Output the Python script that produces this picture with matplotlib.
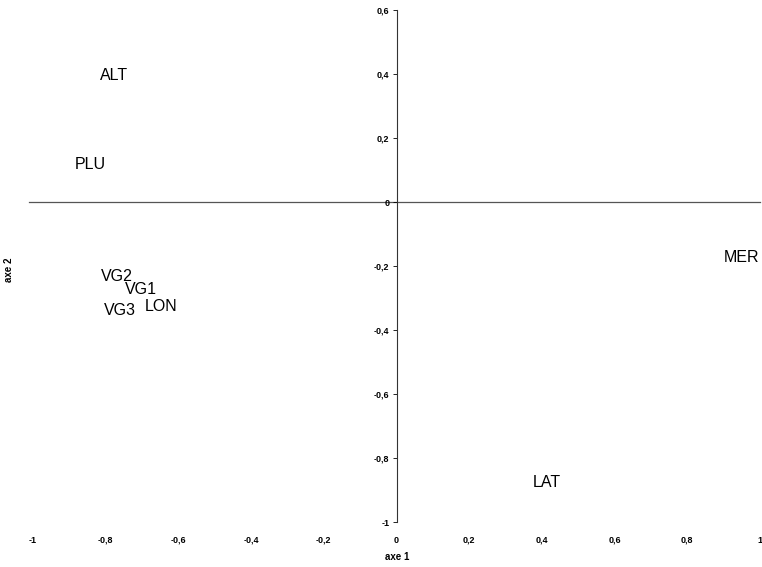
import matplotlib
matplotlib.use("Agg")
import matplotlib.pyplot as plt
import numpy as np

plt.rcParams['font.family'] = ['Liberation Sans', 'DejaVu Sans']

labels = ["ALT", "PLU", "VG2", "VG1", "VG3", "LON", "MER", "LAT"]
axe1 = [-0.777, -0.843, -0.769, -0.702, -0.760, -0.647, 0.950, 0.413]
axe2 = [0.394, 0.116, -0.234, -0.275, -0.338, -0.328, -0.175, -0.878]

xticks = [-1, -0.8, -0.6, -0.4, -0.2, 0, 0.2, 0.4, 0.6, 0.8, 1]
yticks = [-1, -0.8, -0.6, -0.4, -0.2, 0, 0.2, 0.4, 0.6]

def fmt(v):
    s = f"{v:g}".replace(".", ",")
    return s

fig = plt.figure(figsize=(7.62, 5.67), dpi=100)
ax = fig.add_axes([33/762, 1-522/567, 727/762, 512/567])
ax.set_xlim(-1, 1)
ax.set_ylim(-1, 0.6)

for lab, x, y in zip(labels, axe1, axe2):
    ax.text(x, y, lab, ha='center', va='center', fontsize=11.5, color='black')

ax.axhline(0, color='#555555', lw=0.9, xmin=-0.005, zorder=1, clip_on=False)

for s in ['top', 'right', 'bottom']:
    ax.spines[s].set_visible(False)
ax.spines['left'].set_position(('data', 0))
ax.spines['left'].set_color('#333333')
ax.spines['left'].set_linewidth(0.8)

ax.set_yticks(yticks)
ax.set_yticklabels([fmt(v) for v in yticks], fontsize=6.5, fontweight='bold')
ax.tick_params(axis='y', length=3, width=0.6, pad=2)
ax.set_xticks(xticks)
ax.set_xticklabels([fmt(v) for v in xticks], fontsize=6.5, fontweight='bold')
ax.tick_params(axis='x', length=0, pad=10)

fig.text(397/762, 1-557/567, "axe 1", ha='center', va='center', fontsize=7, fontweight='bold')
fig.text(9/762, 1-270/567, "axe 2", ha='center', va='center', fontsize=7, fontweight='bold', rotation=90)

fig.savefig("out.png", dpi=100)
